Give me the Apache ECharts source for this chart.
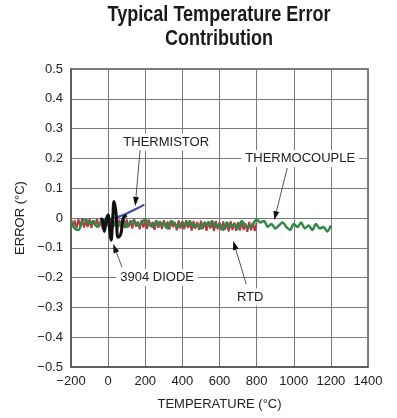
<!DOCTYPE html>
<html><head><meta charset="utf-8">
<script src="https://cdn.jsdelivr.net/npm/echarts@6/dist/echarts.min.js"></script>
<style>html,body{margin:0;padding:0;background:#fff}#c{width:397px;height:418px}</style>
</head><body><div id="c"></div>
<script>
const FONT = '"Liberation Sans",Arial,sans-serif';
const titleLines = ['Typical Temperature Error', 'Contribution'];
const xTicks = [-200, 0, 200, 400, 600, 800, 1000, 1200, 1400];
const yTicks = [-0.5, -0.4, -0.3, -0.2, -0.1, 0, 0.1, 0.2, 0.3, 0.4, 0.5];

// RTD: -200..800 every 10 °C
const rtdStart = -200, rtdStep = 10;
const rtdValues = [
-0.002,-0.030,-0.008,-0.034,-0.004,-0.028,-0.001,-0.032,-0.010,-0.030,
-0.003,-0.034,-0.008,-0.026,-0.002,-0.031,-0.009,-0.036,-0.005,-0.028,
-0.007,-0.032,-0.003,-0.029,-0.010,-0.037,-0.006,-0.030,-0.011,-0.034,
-0.005,-0.031,-0.008,-0.035,-0.004,-0.029,-0.012,-0.038,-0.007,-0.032,
-0.009,-0.036,-0.006,-0.030,-0.013,-0.040,-0.008,-0.033,-0.010,-0.037,
-0.007,-0.034,-0.012,-0.039,-0.009,-0.031,-0.014,-0.041,-0.008,-0.035,
-0.011,-0.038,-0.007,-0.033,-0.015,-0.042,-0.010,-0.036,-0.013,-0.040,
-0.009,-0.037,-0.014,-0.043,-0.011,-0.035,-0.016,-0.044,-0.010,-0.038,
-0.013,-0.041,-0.012,-0.039,-0.017,-0.045,-0.011,-0.040,-0.015,-0.043,
-0.014,-0.042,-0.012,-0.040,-0.018,-0.046,-0.013,-0.041,-0.016,-0.044,
-0.017];

// Thermocouple: -200..1200 every 20 °C
const tcStart = -200, tcStep = 20;
const tcValues = [
-0.010,-0.035,-0.040,-0.015,-0.005,-0.020,-0.010,-0.030,-0.015,-0.005,
-0.020,-0.035,-0.010,-0.025,-0.005,-0.030,-0.015,-0.010,-0.025,-0.015,
-0.005,-0.020,-0.030,-0.010,-0.025,-0.015,-0.035,-0.010,-0.020,-0.030,
-0.015,-0.025,-0.010,-0.030,-0.020,-0.035,-0.015,-0.025,-0.010,-0.030,
-0.020,-0.040,-0.015,-0.030,-0.020,-0.035,-0.010,-0.025,-0.030,-0.020,
-0.005,-0.015,-0.010,-0.030,-0.020,-0.035,-0.025,-0.015,-0.030,-0.040,
-0.020,-0.030,-0.015,-0.035,-0.025,-0.040,-0.020,-0.035,-0.030,-0.045,
-0.025];

const thermistorTemps = [-40, 0, 50, 100, 150, 195];
const thermistorValues = [-0.010, -0.005, 0.003, 0.015, 0.030, 0.045];

const diodeTemps = [-40, -30, -20, -10, 0, 8, 16, 24, 32, 42, 54, 68, 82, 100];
const diodeValues = [0.000, -0.010, -0.045, -0.005, 0.010, -0.040, -0.075, -0.010, 0.055, 0.020, -0.065, -0.055, 0.000, 0.010];

// annotations: [text, textTemp, textVal, arrowFromTemp, arrowFromVal, arrowToTemp, arrowToVal]
const annotations = [
  ['THERMISTOR', 313, 0.255, 172, 0.228, 146, 0.040],
  ['THERMOCOUPLE', 1035, 0.200, 965, 0.168, 895, -0.007],
  ['3904 DIODE', 264, -0.200, 75, -0.165, 27, -0.087],
  ['RTD', 765, -0.265, 744, -0.222, 674, -0.077]
];

function pairs(start, step, vals){ return vals.map((v,i)=>[start + i*step, v]); }
function zip(a,b){ return a.map((t,i)=>[t,b[i]]); }
function fmt(v){ const r = Math.round(v*10)/10; return (r < 0 ? '\u2212' + String(-r) : String(r)); }

const chart = echarts.init(document.getElementById('c'), null, {renderer:'canvas'});
chart.setOption({
  animation: false,
  grid: { left: 71, right: 29, top: 69, bottom: 51, show: true, borderColor: '#555', borderWidth: 1.5 },
  xAxis: {
    type: 'value', min: xTicks[0], max: xTicks[xTicks.length-1], interval: 200,
    name: 'TEMPERATURE (°C)', nameLocation: 'middle', nameGap: 31,
    nameTextStyle: { fontFamily: FONT, fontSize: 13, color: '#222' },
    axisLine: { onZero: false, lineStyle: { color: '#555', width: 1.5 } },
    axisTick: { show: false },
    axisLabel: { fontFamily: FONT, fontSize: 13, color: '#222', margin: 8, formatter: v => String(v).replace('-', '\u2212') },
    splitLine: { lineStyle: { color: '#7a7a7a', width: 1 } }
  },
  yAxis: {
    type: 'value', min: yTicks[0], max: yTicks[yTicks.length-1], interval: 0.1,
    name: 'ERROR (°C)', nameLocation: 'middle', nameGap: 42, nameRotate: 90,
    nameTextStyle: { fontFamily: FONT, fontSize: 13, color: '#222' },
    axisLine: { onZero: false, lineStyle: { color: '#555', width: 1.5 } },
    axisTick: { show: false },
    axisLabel: { fontFamily: FONT, fontSize: 13, color: '#222', margin: 8, formatter: fmt },
    splitLine: { lineStyle: { color: '#7a7a7a', width: 1 } }
  },
  series: [
    { name: 'RTD', type: 'line', data: pairs(rtdStart, rtdStep, rtdValues), showSymbol: false,
      lineStyle: { color: '#ad3f44', width: 2 }, z: 2 },
    { name: 'THERMOCOUPLE', type: 'line', data: pairs(tcStart, tcStep, tcValues), showSymbol: false, smooth: 0.3,
      lineStyle: { color: '#2f8a47', width: 2.5 }, z: 3 },
    { name: 'THERMISTOR', type: 'line', data: zip(thermistorTemps, thermistorValues), showSymbol: false, smooth: true,
      lineStyle: { color: '#3a4ea6', width: 2.2 }, z: 4 },
    { name: '3904 DIODE', type: 'line', data: zip(diodeTemps, diodeValues), showSymbol: false, smooth: 0.4,
      lineStyle: { color: '#111', width: 3 }, z: 5 }
  ]
});

const g = [];
g.push({ type: 'text', x: 219, y: 3, scaleX: 0.82, z: 10,
  style: { text: titleLines.join('\n'), fill: '#1a1a1a', font: 'bold 22px ' + FONT, align: 'center', verticalAlign: 'top', lineHeight: 24 } });
annotations.forEach(a => {
  const tp = chart.convertToPixel({gridIndex:0}, [a[1], a[2]]);
  const p1 = chart.convertToPixel({gridIndex:0}, [a[3], a[4]]);
  const p2 = chart.convertToPixel({gridIndex:0}, [a[5], a[6]]);
  g.push({ type: 'text', x: tp[0], y: tp[1], z: 10,
    style: { text: a[0], fill: '#222', font: '13px ' + FONT, align: 'center', verticalAlign: 'middle',
      backgroundColor: '#fff', padding: [2, 4] } });
  const dx = p2[0]-p1[0], dy = p2[1]-p1[1], L = Math.hypot(dx, dy);
  const ux = dx/L, uy = dy/L, hl = 9, hw = 3;
  const bx = p2[0]-ux*hl, by = p2[1]-uy*hl;
  g.push({ type: 'line', z: 10, shape: { x1: p1[0], y1: p1[1], x2: bx, y2: by }, style: { stroke: '#555', lineWidth: 1 } });
  g.push({ type: 'polygon', z: 10, shape: { points: [[p2[0], p2[1]], [bx - uy*hw, by + ux*hw], [bx + uy*hw, by - ux*hw]] },
    style: { fill: '#111' } });
});
chart.setOption({ graphic: g });
</script></body></html>
